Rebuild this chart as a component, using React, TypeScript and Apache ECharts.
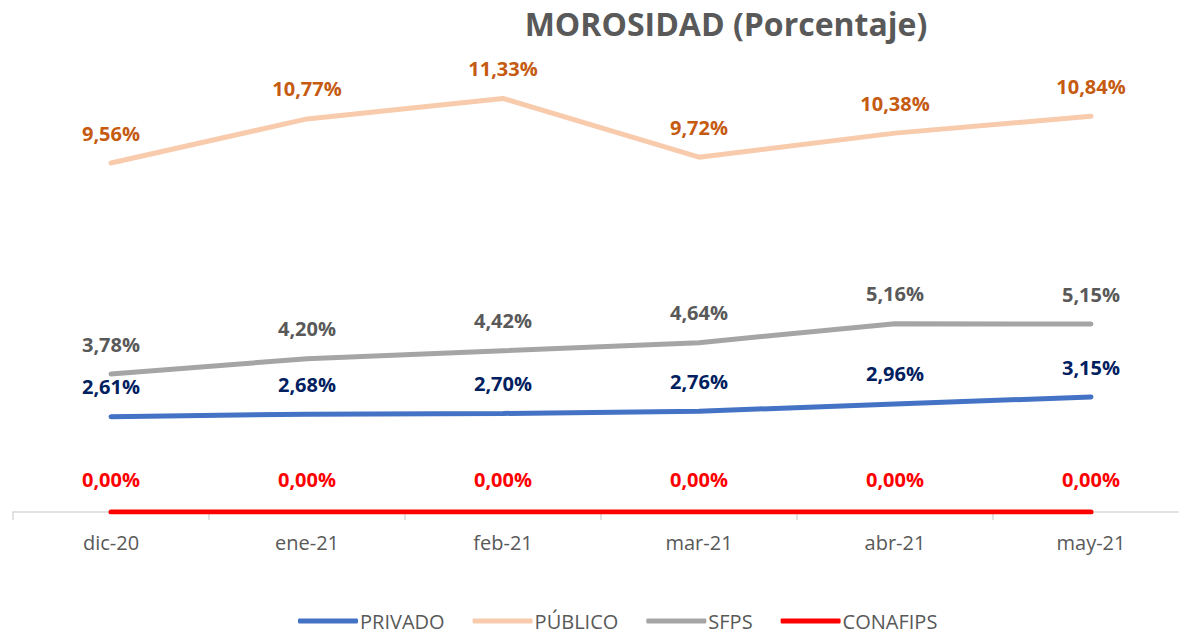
import React, { useEffect, useRef } from "react";
import * as echarts from "echarts";

const categories = ["dic-20", "ene-21", "feb-21", "mar-21", "abr-21", "may-21"];
const privado = [2.61, 2.68, 2.7, 2.76, 2.96, 3.15];
const publico = [9.56, 10.77, 11.33, 9.72, 10.38, 10.84];
const sfps = [3.78, 4.2, 4.42, 4.64, 5.16, 5.15];
const conafips = [0, 0, 0, 0, 0, 0];

const FONT = "'Open Sans', 'Liberation Sans', sans-serif";

const fmt = (p: any) => Number(p.value).toFixed(2).replace(".", ",") + "%";

function mk(name: string, data: number[], color: string, labelColor: string, z: number, dist: number) {
  return {
    name,
    type: "line",
    data,
    z,
    symbol: "circle",
    symbolSize: 2,
    showSymbol: true,
    smooth: false,
    lineStyle: { color, width: 5, cap: "round" },
    itemStyle: { color },
    label: {
      show: true,
      position: "top",
      distance: dist,
      formatter: fmt,
      color: labelColor,
      fontSize: 20,
      fontWeight: "bold",
      fontFamily: FONT,
      opacity: 1,
    },
    labelLayout: { hideOverlap: false },
  };
}

export default function App() {
  const ref = useRef<HTMLDivElement>(null);
  useEffect(() => {
    if (!ref.current) return;
    const chart = echarts.init(ref.current, null, { renderer: "svg" });
    chart.setOption({
      animation: false,
      backgroundColor: "#ffffff",
      title: {
        text: "MOROSIDAD (Porcentaje)",
        left: 721,
        top: 2,
        textAlign: "center",
        textStyle: { color: "#595959", fontSize: 32, fontWeight: "bold", fontFamily: FONT },
      },
      legend: {
        left: 298,
        top: 608,
        padding: 0,
        itemWidth: 60,
        itemHeight: 5,
        itemGap: 28,
        icon: "roundRect",
        textStyle: { color: "#595959", fontSize: 20, fontFamily: FONT, padding: [0, 0, 0, -3], lineHeight: 26 },
        data: ["PRIVADO", "PÚBLICO", "SFPS", "CONAFIPS"],
      },
      grid: { left: 13, right: 11, top: 74, bottom: 122, containLabel: false },
      xAxis: {
        type: "category",
        data: categories,
        boundaryGap: true,
        axisLine: { lineStyle: { color: "#D9D9D9", width: 1.5 } },
        axisTick: { show: true, length: 8, lineStyle: { color: "#D9D9D9", width: 1.5 } },
        axisLabel: { color: "#595959", fontSize: 20, fontFamily: FONT, margin: 20 },
      },
      yAxis: {
        type: "value",
        min: 0,
        max: 12,
        show: false,
        splitLine: { show: false },
      },
      series: [
        mk("PRIVADO", privado, "#4472C4", "#002060", 3, 19),
        mk("PÚBLICO", publico, "#F8CBAD", "#C55A11", 2, 19),
        mk("SFPS", sfps, "#A5A5A5", "#595959", 2, 19),
        mk("CONAFIPS", conafips, "#FF0000", "#FF0000", 4, 22),
      ],
    });
    return () => chart.dispose();
  }, []);
  return (
    <div style={{ position: "fixed", left: 0, top: 0, width: 1179, height: 634, overflow: "hidden", background: "#fff" }}>
      <div ref={ref} style={{ width: 1200, height: 634 }} />
    </div>
  );
}
